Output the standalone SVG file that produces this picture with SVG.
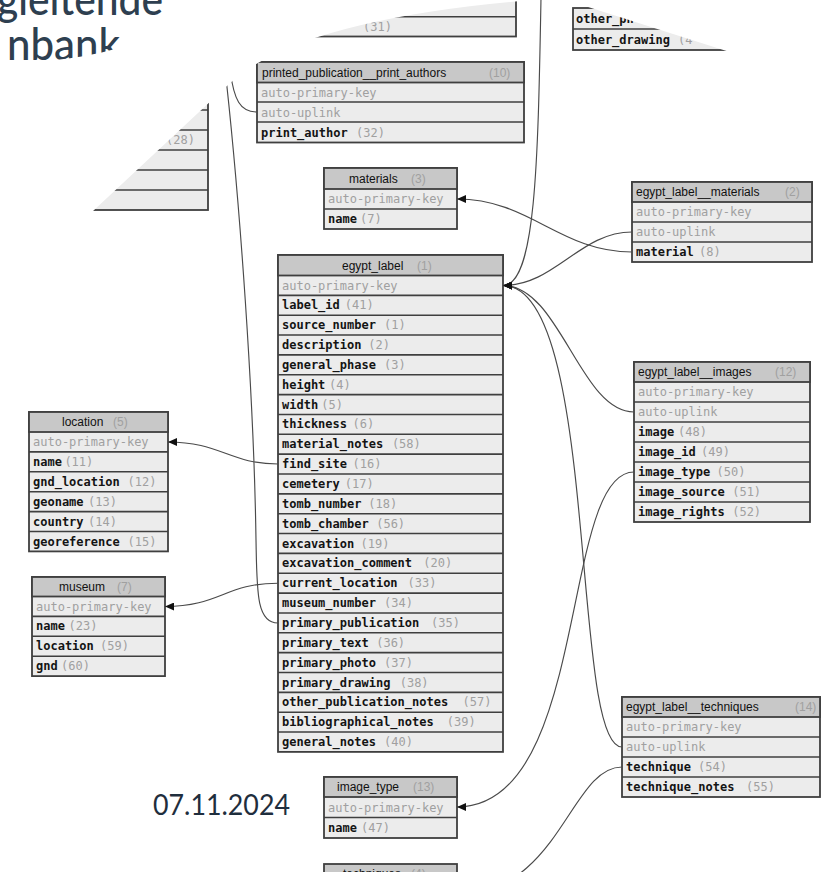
<svg xmlns="http://www.w3.org/2000/svg" width="828" height="872" viewBox="0 0 828 872">
<style>
.t{fill:#ececec;stroke:#3f3f3f;stroke-width:1.8}
.h{fill:#c8c8c8;stroke:#3f3f3f;stroke-width:1.8}
.sep{stroke:#3f3f3f;stroke-width:1.6;fill:none}
.f{font-family:"DejaVu Sans Mono","Liberation Mono",monospace;font-size:12px;font-weight:bold;fill:#141414}
.g{font-family:"DejaVu Sans Mono","Liberation Mono",monospace;font-size:12px;fill:#a0a0a0}
.hd{font-family:"Liberation Sans",Arial,sans-serif;font-size:12px;fill:#111}
.hn{font-family:"Liberation Sans",Arial,sans-serif;font-size:12px;fill:#a0a0a0}
.c{fill:none;stroke:#4a4a4a;stroke-width:1.15}
.ttl{font-family:Lato,"Open Sans",sans-serif;font-size:44px;font-weight:500;fill:#2e3f50}
</style>
<defs>
<marker id="arr" markerUnits="userSpaceOnUse" markerWidth="9" markerHeight="8" viewBox="0 0 9 8" refX="9" refY="4" orient="auto">
<path d="M0,0 L9,4 L0,8 Z" fill="#111"/>
</marker>
<clipPath id="titleClip"><ellipse cx="0" cy="0" rx="183" ry="63"/></clipPath>
</defs>
<rect x="0" y="0" width="828" height="872" fill="#fff"/>

<!-- partial tables -->
<g id="partial_top">
<rect class="t" x="250" y="-3" width="266" height="39.5"/>
<path class="sep" d="M250,16.7H516"/>
<text class="g" x="363" y="31">(31)</text>
</g>
<g id="partial_left">
<rect class="t" x="30" y="90" width="178" height="120"/>
<path class="sep" d="M30,110H208M30,130H208M30,150H208M30,170H208M30,190H208"/>
<text class="g" x="166" y="144">(28)</text>
</g>
<g id="partial_topright">
<rect class="t" x="573" y="8" width="200" height="42"/>
<path class="sep" d="M573,29H773"/>
<text class="f" x="576" y="23">other_ph</text>
<text class="f" x="576" y="44">other_drawing</text>
<text class="g" x="678" y="44">(4</text>
</g>

<!-- tables -->
<g id="printed_publication__print_authors">
<rect class="t" x="257" y="62" width="267" height="80.5"/>
<rect class="h" x="257" y="62" width="267" height="20.5"/>
<path class="sep" d="M257,102H524M257,122H524"/>
<text class="hd" x="262" y="76.5">printed_publication__print_authors</text>
<text class="hn" x="489" y="76.5">(10)</text>
<text class="g" x="261" y="96.5">auto-primary-key</text>
<text class="g" x="261" y="116.5">auto-uplink</text>
<text class="f" x="261" y="136.5">print_author</text>
<text class="g" x="356" y="136.5">(32)</text>
</g>

<g id="materials">
<rect class="t" x="324" y="168" width="133" height="61"/>
<rect class="h" x="324" y="168" width="133" height="21"/>
<path class="sep" d="M324,209H457"/>
<text class="hd" x="349" y="183">materials</text>
<text class="hn" x="411" y="183">(3)</text>
<text class="g" x="328" y="203">auto-primary-key</text>
<text class="f" x="328" y="223">name</text>
<text class="g" x="360" y="223">(7)</text>
</g>

<g id="egypt_label__materials">
<rect class="t" x="632" y="182" width="180" height="80"/>
<rect class="h" x="632" y="182" width="180" height="20"/>
<path class="sep" d="M632,222H812M632,242H812"/>
<text class="hd" x="636" y="196">egypt_label__materials</text>
<text class="hn" x="785" y="196">(2)</text>
<text class="g" x="636" y="216">auto-primary-key</text>
<text class="g" x="636" y="236">auto-uplink</text>
<text class="f" x="636" y="256">material</text>
<text class="g" x="699" y="256">(8)</text>
</g>

<g id="egypt_label">
<rect class="t" x="278" y="255" width="225" height="496.9"/>
<rect class="h" x="278" y="255" width="225" height="20.5"/>
<path class="sep" d="M278,295.35H503M278,315.2H503M278,335.05H503M278,354.9H503M278,374.75H503M278,394.6H503M278,414.45H503M278,434.3H503M278,454.15H503M278,474H503M278,493.85H503M278,513.7H503M278,533.55H503M278,553.4H503M278,573.25H503M278,593.1H503M278,612.95H503M278,632.8H503M278,652.65H503M278,672.5H503M278,692.35H503M278,712.2H503M278,732.05H503"/>
<text class="hd" x="342" y="269.5">egypt_label</text>
<text class="hn" x="417" y="269.5">(1)</text>
<text class="g" x="282" y="289.5">auto-primary-key</text>
<text class="f" x="282" y="309.35">label_id</text><text class="g" x="344.8" y="309.35">(41)</text>
<text class="f" x="282" y="329.2">source_number</text><text class="g" x="384" y="329.2">(1)</text>
<text class="f" x="282" y="349.05">description</text><text class="g" x="368.3" y="349.05">(2)</text>
<text class="f" x="282" y="368.9">general_phase</text><text class="g" x="384" y="368.9">(3)</text>
<text class="f" x="282" y="388.75">height</text><text class="g" x="329.1" y="388.75">(4)</text>
<text class="f" x="282" y="408.6">width</text><text class="g" x="321.3" y="408.6">(5)</text>
<text class="f" x="282" y="428.45">thickness</text><text class="g" x="352.6" y="428.45">(6)</text>
<text class="f" x="282" y="448.3">material_notes</text><text class="g" x="391.9" y="448.3">(58)</text>
<text class="f" x="282" y="468.15">find_site</text><text class="g" x="352.6" y="468.15">(16)</text>
<text class="f" x="282" y="488">cemetery</text><text class="g" x="344.8" y="488">(17)</text>
<text class="f" x="282" y="507.85">tomb_number</text><text class="g" x="368.3" y="507.85">(18)</text>
<text class="f" x="282" y="527.7">tomb_chamber</text><text class="g" x="376.2" y="527.7">(56)</text>
<text class="f" x="282" y="547.55">excavation</text><text class="g" x="360.5" y="547.55">(19)</text>
<text class="f" x="282" y="567.4">excavation_comment</text><text class="g" x="423.3" y="567.4">(20)</text>
<text class="f" x="282" y="587.25">current_location</text><text class="g" x="407.6" y="587.25">(33)</text>
<text class="f" x="282" y="607.1">museum_number</text><text class="g" x="384" y="607.1">(34)</text>
<text class="f" x="282" y="626.95">primary_publication</text><text class="g" x="431.1" y="626.95">(35)</text>
<text class="f" x="282" y="646.8">primary_text</text><text class="g" x="376.2" y="646.8">(36)</text>
<text class="f" x="282" y="666.65">primary_photo</text><text class="g" x="384" y="666.65">(37)</text>
<text class="f" x="282" y="686.5">primary_drawing</text><text class="g" x="399.7" y="686.5">(38)</text>
<text class="f" x="282" y="706.35">other_publication_notes</text><text class="g" x="462.5" y="706.35">(57)</text>
<text class="f" x="282" y="726.2">bibliographical_notes</text><text class="g" x="446.8" y="726.2">(39)</text>
<text class="f" x="282" y="746.05">general_notes</text><text class="g" x="384" y="746.05">(40)</text>
</g>

<g id="egypt_label__images">
<rect class="t" x="634" y="362" width="176" height="160"/>
<rect class="h" x="634" y="362" width="176" height="20"/>
<path class="sep" d="M634,402H810M634,422H810M634,442H810M634,462H810M634,482H810M634,502H810"/>
<text class="hd" x="638" y="376">egypt_label__images</text>
<text class="hn" x="775" y="376">(12)</text>
<text class="g" x="638" y="396">auto-primary-key</text>
<text class="g" x="638" y="416">auto-uplink</text>
<text class="f" x="638" y="436">image</text><text class="g" x="678" y="436">(48)</text>
<text class="f" x="638" y="456">image_id</text><text class="g" x="701" y="456">(49)</text>
<text class="f" x="638" y="476">image_type</text><text class="g" x="716.5" y="476">(50)</text>
<text class="f" x="638" y="496">image_source</text><text class="g" x="732.2" y="496">(51)</text>
<text class="f" x="638" y="516">image_rights</text><text class="g" x="732.2" y="516">(52)</text>
</g>

<g id="egypt_label__techniques">
<rect class="t" x="622" y="697" width="198" height="100"/>
<rect class="h" x="622" y="697" width="198" height="20"/>
<path class="sep" d="M622,737H820M622,757H820M622,777H820"/>
<text class="hd" x="626" y="711">egypt_label__techniques</text>
<text class="hn" x="795" y="711">(14)</text>
<text class="g" x="626" y="731">auto-primary-key</text>
<text class="g" x="626" y="751">auto-uplink</text>
<text class="f" x="626" y="771">technique</text><text class="g" x="698" y="771">(54)</text>
<text class="f" x="626" y="791">technique_notes</text><text class="g" x="746" y="791">(55)</text>
</g>

<g id="location">
<rect class="t" x="29" y="412" width="139" height="139.4"/>
<rect class="h" x="29" y="412" width="139" height="20"/>
<path class="sep" d="M29,451.9H168M29,471.8H168M29,491.7H168M29,511.6H168M29,531.5H168"/>
<text class="hd" x="62" y="426">location</text>
<text class="hn" x="113" y="426">(5)</text>
<text class="g" x="33" y="446">auto-primary-key</text>
<text class="f" x="33" y="465.9">name</text><text class="g" x="64.4" y="465.9">(11)</text>
<text class="f" x="33" y="485.8">gnd_location</text><text class="g" x="127.5" y="485.8">(12)</text>
<text class="f" x="33" y="505.7">geoname</text><text class="g" x="88" y="505.7">(13)</text>
<text class="f" x="33" y="525.6">country</text><text class="g" x="88" y="525.6">(14)</text>
<text class="f" x="33" y="545.5">georeference</text><text class="g" x="127.5" y="545.5">(15)</text>
</g>

<g id="museum">
<rect class="t" x="32" y="577" width="133" height="99.1"/>
<rect class="h" x="32" y="577" width="133" height="19.5"/>
<path class="sep" d="M32,616.4H165M32,636.3H165M32,656.2H165"/>
<text class="hd" x="59" y="591">museum</text>
<text class="hn" x="117" y="591">(7)</text>
<text class="g" x="36" y="610.5">auto-primary-key</text>
<text class="f" x="36" y="630.4">name</text><text class="g" x="68.5" y="630.4">(23)</text>
<text class="f" x="36" y="650.3">location</text><text class="g" x="100" y="650.3">(59)</text>
<text class="f" x="36" y="670.2">gnd</text><text class="g" x="61" y="670.2">(60)</text>
</g>

<g id="image_type">
<rect class="t" x="324" y="777" width="133" height="61"/>
<rect class="h" x="324" y="777" width="133" height="20"/>
<path class="sep" d="M324,817.5H457"/>
<text class="hd" x="337" y="791">image_type</text>
<text class="hn" x="413" y="791">(13)</text>
<text class="g" x="328" y="811.5">auto-primary-key</text>
<text class="f" x="328" y="832">name</text><text class="g" x="361" y="832">(47)</text>
</g>

<g id="techniques">
<rect class="h" x="324" y="864" width="133" height="20"/>
<text class="hd" x="343" y="878">techniques</text>
<text class="hn" x="411" y="878">(4)</text>
</g>

<!-- connectors -->
<g id="connectors">
<path class="c" d="M632,232 C580,232 555,285.5 503,285.5" marker-end="url(#arr)"/>
<path class="c" d="M632,252 C560,252 530,199 457,199" marker-end="url(#arr)"/>
<path class="c" d="M634,412 C580,412 560,285.5 503,285.5" marker-end="url(#arr)"/>
<path class="c" d="M634,472 C560,472 590,807 457,807" marker-end="url(#arr)"/>
<path class="c" d="M622,747 C570,747 600,285.5 503,285.5" marker-end="url(#arr)"/>
<path class="c" d="M622,767 C570,767 560,894 457,894"/>
<path class="c" d="M541,-2 C538,160 536,285.5 503,285.5" marker-end="url(#arr)"/>
<path class="c" d="M278,464 C230,464 220,442 168,442" marker-end="url(#arr)"/>
<path class="c" d="M278,583.2 C225,583.2 220,606.5 165,606.5" marker-end="url(#arr)"/>
<path class="c" d="M278,623 C256,623 257,590 256,540 C254,400 240,200 224,60"/>
<path class="c" d="M257,112 C240,112 234,100 230,70"/>
</g>

<!-- masks -->
<path d="M545,-1 C400,10 280,35 228,85 L93,211 L0,292 L0,-1 Z" fill="#fff"/>
<path d="M563,-1 L725,50.5 L828,83 L828,-1 Z" fill="#fff"/>

<!-- title fragments -->
<g id="title" clip-path="url(#titleClip)">
<text class="ttl" x="-3" y="15" textLength="166" lengthAdjust="spacingAndGlyphs">gleitende</text>
<text class="ttl" x="7" y="60" textLength="113" lengthAdjust="spacingAndGlyphs">nbank</text>
</g>

<text x="153" y="815" font-family="Lato,'Open Sans',sans-serif" font-size="29" fill="#1f2e3d" textLength="137" lengthAdjust="spacingAndGlyphs">07.11.2024</text>
</svg>
